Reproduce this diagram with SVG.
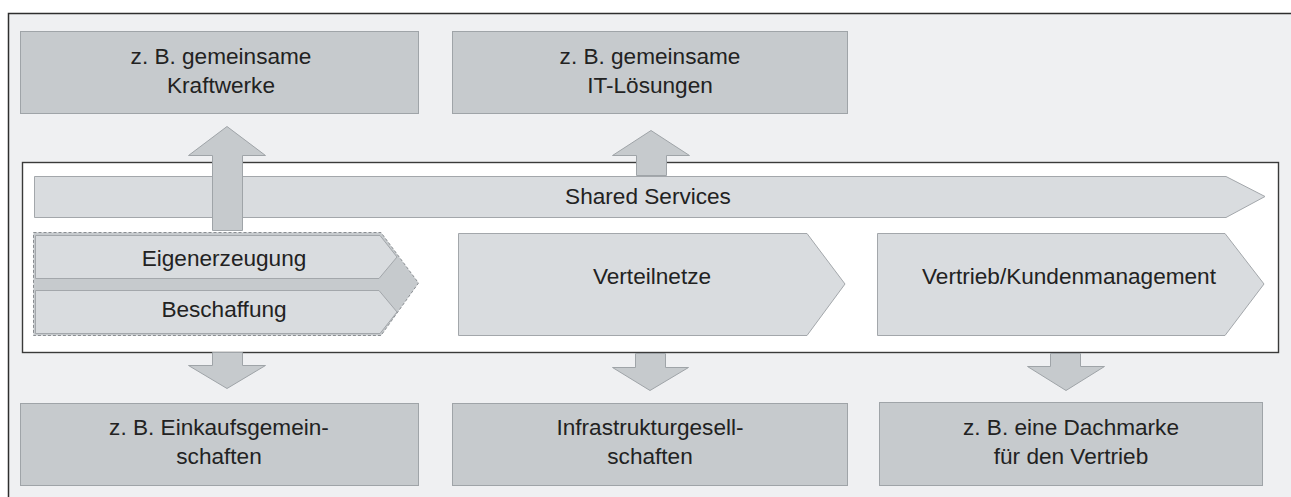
<svg xmlns="http://www.w3.org/2000/svg" width="1291" height="497" viewBox="0 0 1291 497">
<style>
.frame{fill:#eff0f2;stroke:#2e2e2e;stroke-width:1.5}
.inner{fill:#ffffff;stroke:#3a3a3a;stroke-width:1.4}
.box{fill:#c6cacd;stroke:#9fa4a8;stroke-width:1}
.chev{fill:#d9dcdf;stroke:#a3a7ab;stroke-width:1}
.dash{fill:#c6cacd;stroke:#8a8e92;stroke-width:1;stroke-dasharray:3 2}
.arrow{fill:#c6cacd;stroke:#9fa4a8;stroke-width:1}
text{font-family:"Liberation Sans",Arial,Helvetica,sans-serif;font-size:22.6px;fill:#222;text-anchor:middle}
</style>
<rect class="frame" x="8.5" y="13.5" width="1300" height="500"/>
<g id="box-kraftwerke">
<rect class="box" x="20.5" y="31.5" width="398" height="82"/>
<text x="221" y="64">z. B. gemeinsame</text>
<text x="221" y="93">Kraftwerke</text>
</g>
<g id="box-it">
<rect class="box" x="452.5" y="31.5" width="395" height="82"/>
<text x="650" y="64">z. B. gemeinsame</text>
<text x="650" y="93">IT-Lösungen</text>
</g>
<g id="value-chain">
<rect class="inner" x="22.5" y="162.5" width="1256" height="190"/>
</g>
<g id="shared-services">
<path class="chev" d="M34.5,176.5 L1226,176.5 L1265,196.5 L1226,217.5 L34.5,217.5 Z"/>
<text x="648" y="204">Shared Services</text>
</g>
<g id="eigenerzeugung-beschaffung">
<path class="dash" d="M33.5,232.5 L381,232.5 L418.5,283 L381,335.5 L33.5,335.5 Z"/>
<path class="chev" d="M35.5,235.5 L380,235.5 L397,257 L379,278.5 L35.5,278.5 Z"/>
<path class="chev" d="M35.5,290.5 L379,290.5 L397,312 L380,333.5 L35.5,333.5 Z"/>
<text x="224" y="266">Eigenerzeugung</text>
<text x="224" y="317">Beschaffung</text>
</g>
<g id="verteilnetze">
<path class="chev" d="M458.5,233.5 L807,233.5 L845,284 L807,335.5 L458.5,335.5 Z"/>
<text x="652" y="284">Verteilnetze</text>
</g>
<g id="vertrieb">
<path class="chev" d="M877.5,233.5 L1225,233.5 L1264,284 L1225,335.5 L877.5,335.5 Z"/>
<text x="1069" y="284">Vertrieb/Kundenmanagement</text>
</g>
<g id="box-einkauf">
<rect class="box" x="20.5" y="403.5" width="398" height="82"/>
<text x="219" y="435">z. B. Einkaufsgemein-</text>
<text x="219" y="464">schaften</text>
</g>
<g id="box-infra">
<rect class="box" x="452.5" y="403.5" width="395" height="82"/>
<text x="650" y="435">Infrastrukturgesell-</text>
<text x="650" y="464">schaften</text>
</g>
<g id="box-dachmarke">
<rect class="box" x="879.5" y="402.5" width="383" height="83"/>
<text x="1071" y="435">z. B. eine Dachmarke</text>
<text x="1071" y="464">für den Vertrieb</text>
</g>
<g id="connectors">
<path class="arrow" d="M212.5,230.5 L212.5,155.5 L188.5,155.5 L227,126.5 L265.5,155.5 L242.5,155.5 L242.5,230.5 Z"/>
<path class="arrow" d="M636.5,175.5 L636.5,155.5 L612.5,155.5 L651,130.5 L689.5,155.5 L666.5,155.5 L666.5,175.5 Z"/>
<path class="arrow" d="M212.5,352.5 L242.5,352.5 L242.5,365.5 L265.5,365.5 L227,388.5 L188.5,365.5 L212.5,365.5 Z"/>
<path class="arrow" d="M635.5,353.5 L665.5,353.5 L665.5,367.5 L688.5,367.5 L650,390.5 L612.5,367.5 L635.5,367.5 Z"/>
<path class="arrow" d="M1050.5,353.5 L1080.5,353.5 L1080.5,366.5 L1104.5,366.5 L1066,390.5 L1027.5,366.5 L1050.5,366.5 Z"/>
</g>
</svg>
